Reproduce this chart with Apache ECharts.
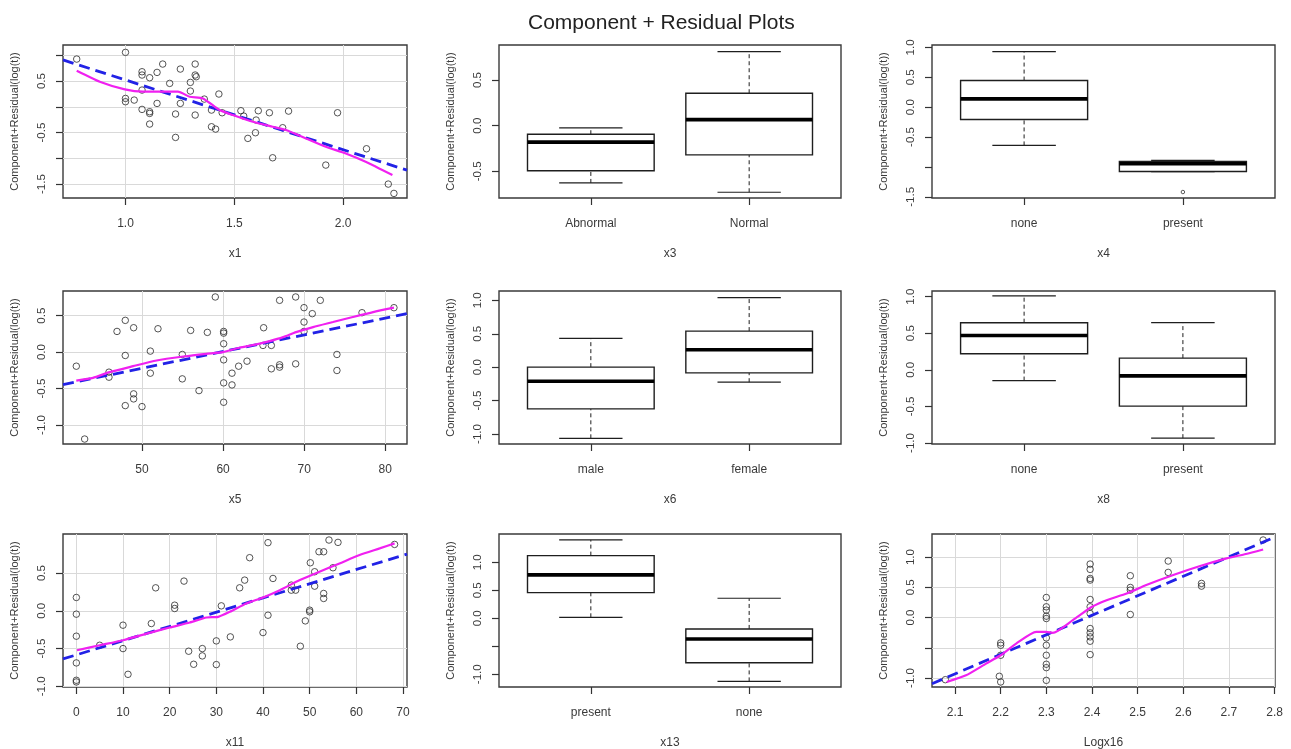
<!DOCTYPE html>
<html><head><meta charset="utf-8">
<script src="https://cdn.jsdelivr.net/npm/echarts@6/dist/echarts.min.js"></script>
<style>html,body{margin:0;padding:0;background:#fff}#c{width:1291px;height:749px}</style>
</head><body><div id="c"></div>
<script>
// ---------------- DATA ----------------
const chartTitle = 'Component + Residual Plots';
const yTitle = 'Component+Residual(log(t))';

// x1 (scatter)
const x1Points = [[0.776,0.927],[1.0,1.057],[1.0,0.163],[1.0,0.099],[1.04,0.131],[1.076,0.681],[1.076,0.617],[1.076,0.325],[1.076,-0.05],[1.111,0.565],[1.111,-0.095],[1.111,-0.128],[1.111,-0.335],[1.145,0.668],[1.145,0.066],[1.171,0.83],[1.203,0.455],[1.23,-0.14],[1.23,-0.594],[1.252,0.733],[1.252,0.066],[1.298,0.474],[1.298,0.306],[1.32,0.83],[1.32,0.617],[1.325,0.584],[1.32,-0.16],[1.362,0.15],[1.395,-0.063],[1.395,-0.387],[1.414,-0.432],[1.429,0.248],[1.444,-0.115],[1.53,-0.076],[1.543,-0.18],[1.562,-0.613],[1.597,-0.503],[1.60,-0.257],[1.61,-0.076],[1.661,-0.115],[1.676,-0.989],[1.722,-0.406],[1.749,-0.083],[1.92,-1.131],[1.974,-0.115],[2.107,-0.814],[2.207,-1.5],[2.233,-1.681]];
const x1Fit = [[0.713,0.91],[2.293,-1.23]];
const x1Smooth = [[0.776,0.70],[0.882,0.487],[0.997,0.338],[1.08,0.293],[1.142,0.293],[1.241,0.293],[1.295,0.196],[1.356,0.163],[1.432,-0.063],[1.493,-0.16],[1.585,-0.29],[1.676,-0.387],[1.737,-0.451],[1.829,-0.613],[1.92,-0.775],[2.012,-0.905],[2.103,-1.066],[2.226,-1.325]];
const x1Range = [0.713, 2.293], x1YRange = [-1.77, 1.2];
const x1XTicks = [1.0, 1.5, 2.0];
const x1YTicks = [-1.5, -1.0, -0.5, 0.0, 0.5, 1.0];
const x1YLabels = [-1.5, -0.5, 0.5];

// x3 (box)  [lower whisker, Q1, median, Q3, upper whisker]
const x3Groups = ['Abnormal', 'Normal'];
const x3Boxes = [[-0.627,-0.493,-0.18,-0.094,-0.025],[-0.729,-0.32,0.066,0.355,0.81]];
const x3Outliers = [];
const x3YRange = [-0.792, 0.883];
const x3YTicks = [-0.5, 0.0, 0.5];
const x3YLabels = [-0.5, 0.0, 0.5];

// x4 (box)
const x4Groups = ['none', 'present'];
const x4Boxes = [[-0.64,-0.207,0.139,0.445,0.93],[-1.08,-1.077,-0.948,-0.91,-0.89]];
const x4Outliers = [[2,-1.42]];
const x4YRange = [-1.52, 1.04];
const x4YTicks = [-1.5, -1.0, -0.5, 0.0, 0.5, 1.0];
const x4YLabels = [-1.5, -0.5, 0.0, 0.5, 1.0];

// x5 (scatter)
const x5Points = [[41.9,-0.193],[42.93,-1.193],[45.93,-0.275],[45.93,-0.344],[46.92,0.284],[47.94,0.436],[47.94,-0.046],[47.94,-0.734],[48.97,0.335],[48.97,-0.573],[48.97,-0.642],[50,-0.748],[51.03,0.014],[51.03,-0.289],[51.97,0.321],[54.97,-0.032],[54.97,-0.367],[56,0.298],[57.03,-0.528],[58.06,0.271],[59.04,0.757],[60.07,0.284],[60.07,0.261],[60.07,0.115],[60.07,-0.106],[60.07,-0.422],[60.07,-0.688],[61.1,-0.289],[61.1,-0.45],[61.92,-0.193],[62.95,-0.124],[65,0.335],[64.92,0.092],[65.95,0.092],[65.95,-0.229],[66.97,0.711],[66.97,-0.174],[66.97,-0.206],[68.95,0.757],[68.95,-0.161],[69.98,0.61],[69.98,0.413],[69.98,0.284],[71,0.528],[71.99,0.711],[74.04,-0.032],[74.04,-0.252],[77.13,0.541],[81.07,0.61]];
const x5Fit = [[40.26,-0.445],[82.68,0.528]];
const x5Smooth = [[41.9,-0.39],[43.96,-0.353],[46.0,-0.275],[48.9,-0.193],[51.8,-0.115],[55.1,-0.06],[57.9,-0.023],[60,0.0],[62.0,0.06],[64.1,0.106],[65.74,0.151],[67.4,0.206],[69.0,0.275],[71.1,0.344],[73.55,0.413],[76.0,0.482],[78.5,0.55],[81.07,0.61]];
const x5Range = [40.26, 82.68], x5YRange = [-1.261, 0.839];
const x5XTicks = [50, 60, 70, 80];
const x5YTicks = [-1.0, -0.5, 0.0, 0.5];
const x5YLabels = [-1.0, -0.5, 0.0, 0.5];

// x6 (box)
const x6Groups = ['male', 'female'];
const x6Boxes = [[-1.065,-0.625,-0.21,0.0,0.43],[-0.225,-0.085,0.26,0.54,1.04]];
const x6Outliers = [];
const x6YRange = [-1.15, 1.14];
const x6YTicks = [-1.0, -0.5, 0.0, 0.5, 1.0];
const x6YLabels = [-1.0, -0.5, 0.0, 0.5, 1.0];

// x8 (box)
const x8Groups = ['none', 'present'];
const x8Boxes = [[-0.147,0.22,0.469,0.644,1.01],[-0.934,-0.497,-0.083,0.16,0.644]];
const x8Outliers = [];
const x8YRange = [-1.014, 1.077];
const x8YTicks = [-1.0, -0.5, 0.0, 0.5, 1.0];
const x8YLabels = [-1.0, -0.5, 0.0, 0.5, 1.0];

// x11 (scatter)
const x11Points = [[0,0.177],[0,-0.044],[0,-0.336],[0,-0.69],[0,-0.92],[0,-0.942],[5,-0.456],[10,-0.19],[10,-0.5],[11.07,-0.841],[16.07,-0.168],[17,0.305],[21.07,0.075],[21.07,0.031],[23.07,0.394],[24.07,-0.535],[25.14,-0.708],[27,-0.5],[27,-0.597],[30,-0.398],[30,-0.712],[31.07,0.066],[33,-0.345],[35,0.305],[36.07,0.407],[37.14,0.704],[40,-0.288],[41.07,0.903],[41.07,-0.058],[42.14,0.429],[46.07,0.341],[46.07,0.274],[47,0.274],[48,-0.469],[49.07,-0.133],[50,0.009],[50,-0.013],[50.14,0.637],[51.07,0.518],[51.07,0.327],[52,0.783],[53,0.783],[53,0.23],[53,0.164],[54.14,0.938],[55,0.571],[56.07,0.907],[68.2,0.88]];
const x11Fit = [[-2.86,-0.637],[70.86,0.752]];
const x11Smooth = [[0.14,-0.522],[5,-0.456],[10,-0.389],[15.7,-0.292],[20,-0.221],[24.3,-0.155],[27.9,-0.088],[30.4,-0.08],[32.9,-0.013],[36.4,0.097],[40,0.177],[43.6,0.274],[47.9,0.407],[52.1,0.518],[56.4,0.628],[60.7,0.739],[65,0.827],[68.2,0.894]];
const x11Range = [-2.86, 70.86], x11YRange = [-1.009, 1.018];
const x11XTicks = [0, 10, 20, 30, 40, 50, 60, 70];
const x11YTicks = [-1.0, -0.5, 0.0, 0.5];
const x11YLabels = [-1.0, -0.5, 0.0, 0.5];

// x13 (box)
const x13Groups = ['present', 'none'];
const x13Boxes = [[0.018,0.458,0.775,1.12,1.40],[-1.127,-0.794,-0.37,-0.19,0.358]];
const x13Outliers = [];
const x13YRange = [-1.227, 1.506];
const x13YTicks = [-1.0, -0.5, 0.0, 0.5, 1.0];
const x13YLabels = [-1.0, 0.0, 0.5, 1.0];

// Logx16 (scatter)
const x16Points = [[2.0788,-1.028],[2.2,-0.42],[2.2,-0.459],[2.2,-0.624],[2.197,-0.972],[2.2,-1.066],[2.3,0.331],[2.3,0.177],[2.3,0.122],[2.3,0.022],[2.3,-0.017],[2.3,-0.337],[2.3,-0.459],[2.3,-0.624],[2.3,-0.773],[2.3,-0.829],[2.3,-1.039],[2.396,0.884],[2.396,0.796],[2.396,0.646],[2.396,0.619],[2.396,0.298],[2.396,0.177],[2.396,0.066],[2.396,-0.182],[2.396,-0.254],[2.396,-0.32],[2.396,-0.392],[2.396,-0.613],[2.484,0.691],[2.484,0.497],[2.484,0.453],[2.484,0.05],[2.567,0.934],[2.567,0.746],[2.64,0.564],[2.64,0.519],[2.775,1.282]];
const x16Fit = [[2.0495,-1.094],[2.801,1.33]];
const x16Smooth = [[2.0817,-1.066],[2.124,-0.956],[2.168,-0.762],[2.2,-0.624],[2.234,-0.431],[2.278,-0.238],[2.3,-0.238],[2.314,-0.254],[2.358,-0.044],[2.4,0.177],[2.432,0.287],[2.476,0.398],[2.519,0.536],[2.578,0.702],[2.637,0.851],[2.695,0.978],[2.737,1.05],[2.775,1.125]];
const x16Range = [2.0495, 2.801], x16YRange = [-1.149, 1.381];
const x16XTicks = [2.1, 2.2, 2.3, 2.4, 2.5, 2.6, 2.7, 2.8];
const x16YTicks = [-1.0, -0.5, 0.0, 0.5, 1.0];
const x16YLabels = [-1.0, 0.0, 0.5, 1.0];

const boxPositions = [1, 2];
const boxXRange = [0.42, 2.58];

// ---------------- PANELS ----------------
const panels = [
  {kind:'scatter', name:'x1', pts:x1Points, fit:x1Fit, sm:x1Smooth, xr:x1Range, yr:x1YRange, xt:x1XTicks, xdec:1, yt:x1YTicks, yl:x1YLabels},
  {kind:'box', name:'x3', groups:x3Groups, boxes:x3Boxes, out:x3Outliers, yr:x3YRange, yt:x3YTicks, yl:x3YLabels},
  {kind:'box', name:'x4', groups:x4Groups, boxes:x4Boxes, out:x4Outliers, yr:x4YRange, yt:x4YTicks, yl:x4YLabels},
  {kind:'scatter', name:'x5', pts:x5Points, fit:x5Fit, sm:x5Smooth, xr:x5Range, yr:x5YRange, xt:x5XTicks, xdec:0, yt:x5YTicks, yl:x5YLabels},
  {kind:'box', name:'x6', groups:x6Groups, boxes:x6Boxes, out:x6Outliers, yr:x6YRange, yt:x6YTicks, yl:x6YLabels},
  {kind:'box', name:'x8', groups:x8Groups, boxes:x8Boxes, out:x8Outliers, yr:x8YRange, yt:x8YTicks, yl:x8YLabels},
  {kind:'scatter', name:'x11', pts:x11Points, fit:x11Fit, sm:x11Smooth, xr:x11Range, yr:x11YRange, xt:x11XTicks, xdec:0, yt:x11YTicks, yl:x11YLabels},
  {kind:'box', name:'x13', groups:x13Groups, boxes:x13Boxes, out:x13Outliers, yr:x13YRange, yt:x13YTicks, yl:x13YLabels},
  {kind:'scatter', name:'Logx16', pts:x16Points, fit:x16Fit, sm:x16Smooth, xr:x16Range, yr:x16YRange, xt:x16XTicks, xdec:1, yt:x16YTicks, yl:x16YLabels}
];

// layout (px): left, top, width, height
const colLeft = [63, 499, 932];
const colWidth = [344, 342, 343];
const rowTop = [45, 291, 534];
const plotH = 153;

const FONT = 'Liberation Sans, Arial, sans-serif';
const INK = '#333';
const TXT = '#3a3a3a';

function boxRender(params, api) {
  const pos = api.value(0);
  const p = [1,2,3,4,5].map(i => api.coord([pos, api.value(i)]));
  const cx = p[0][0];
  const half = api.size([0.4, 0])[0];
  const st = api.size([0.2, 0])[0];
  const ink = '#1e1e1e';
  return { type: 'group', children: [
    {type:'line', shape:{x1:cx,y1:p[3][1],x2:cx,y2:p[4][1]}, style:{stroke:ink,lineWidth:1,lineDash:[4,3]}},
    {type:'line', shape:{x1:cx,y1:p[0][1],x2:cx,y2:p[1][1]}, style:{stroke:ink,lineWidth:1,lineDash:[4,3]}},
    {type:'line', shape:{x1:cx-st,y1:p[4][1],x2:cx+st,y2:p[4][1]}, style:{stroke:ink,lineWidth:1.2}},
    {type:'line', shape:{x1:cx-st,y1:p[0][1],x2:cx+st,y2:p[0][1]}, style:{stroke:ink,lineWidth:1.2}},
    {type:'rect', shape:{x:cx-half,y:p[3][1],width:2*half,height:p[1][1]-p[3][1]}, style:{fill:'#fff',stroke:ink,lineWidth:1.4}},
    {type:'line', shape:{x1:cx-half,y1:p[2][1],x2:cx+half,y2:p[2][1]}, style:{stroke:'#000',lineWidth:3.6}}
  ]};
}

const grid = [], xAxis = [], yAxis = [], series = [];
panels.forEach((pn, i) => {
  const r = Math.floor(i / 3), c = i % 3;
  grid.push({left: colLeft[c], top: rowTop[r], width: colWidth[c], height: plotH,
    show: true, borderColor: '#3a3a3a', borderWidth: 1.4, backgroundColor: 'transparent', containLabel: false, outerBoundsMode: 'none'});
  const isBox = pn.kind === 'box';
  const xTicks = isBox ? boxPositions : pn.xt;
  const xr = isBox ? boxXRange : pn.xr;
  xAxis.push({
    type: 'value', gridIndex: i, min: xr[0], max: xr[1], position: 'bottom',
    name: pn.name, nameLocation: 'middle', nameGap: 50,
    nameTextStyle: {fontFamily: FONT, fontSize: 12, color: TXT},
    axisLine: {show: false, onZero: false},
    axisTick: {show: true, length: 7, customValues: xTicks, lineStyle: {color: INK, width: 1.2}},
    axisLabel: {show: true, customValues: xTicks, margin: 20, fontFamily: FONT, fontSize: 12, color: TXT,
      formatter: isBox ? (v => pn.groups[Math.round(v) - 1]) : (v => v.toFixed(pn.xdec))},
    splitLine: {show: !isBox, lineStyle: {color: '#d9d9d9', width: 1}}
  });
  yAxis.push({
    type: 'value', gridIndex: i, min: pn.yr[0], max: pn.yr[1], position: 'left',
    name: yTitle, nameLocation: 'middle', nameRotate: 90, nameGap: 43,
    nameTextStyle: {fontFamily: FONT, fontSize: 11, color: TXT},
    axisLine: {show: false, onZero: false},
    axisTick: {show: true, length: 7, customValues: pn.yt, lineStyle: {color: INK, width: 1.2}},
    axisLabel: {show: true, customValues: pn.yl, rotate: 90, margin: 15, fontFamily: FONT, fontSize: 11.5, color: TXT,
      formatter: v => v.toFixed(1)},
    splitLine: {show: !isBox, lineStyle: {color: '#d9d9d9', width: 1}}
  });
  if (isBox) {
    series.push({type: 'custom', xAxisIndex: i, yAxisIndex: i, renderItem: boxRender,
      data: pn.boxes.map((b, k) => [boxPositions[k]].concat(b)), encode: {x: 0, y: [1,2,3,4,5]}, clip: true, silent: true});
    if (pn.out.length) series.push({type: 'scatter', xAxisIndex: i, yAxisIndex: i, data: pn.out,
      symbol: 'circle', symbolSize: 3.5, itemStyle: {color: 'transparent', borderColor: '#333', borderWidth: 1}, silent: true});
  } else {
    series.push({type: 'scatter', xAxisIndex: i, yAxisIndex: i, data: pn.pts, symbol: 'circle', symbolSize: 6.5,
      itemStyle: {color: 'transparent', borderColor: '#2a2a2a', borderWidth: 1}, z: 2, silent: true});
    series.push({type: 'line', xAxisIndex: i, yAxisIndex: i, data: pn.fit, symbol: 'none', clip: true, z: 3,
      lineStyle: {color: '#2222e6', width: 2.8, type: [11, 6]}, silent: true});
    series.push({type: 'line', xAxisIndex: i, yAxisIndex: i, data: pn.sm, symbol: 'none', smooth: 0.2, clip: true, z: 4,
      lineStyle: {color: '#f020f0', width: 2.2}, silent: true});
  }
});

const chart = echarts.init(document.getElementById('c'), null, {renderer: 'canvas'});
chart.setOption({
  animation: false,
  backgroundColor: '#fff',
  title: {text: chartTitle, left: 523, top: 8, textStyle: {fontFamily: FONT, fontSize: 21, fontWeight: 'normal', color: '#222'}},
  grid, xAxis, yAxis, series
});
</script></body></html>
